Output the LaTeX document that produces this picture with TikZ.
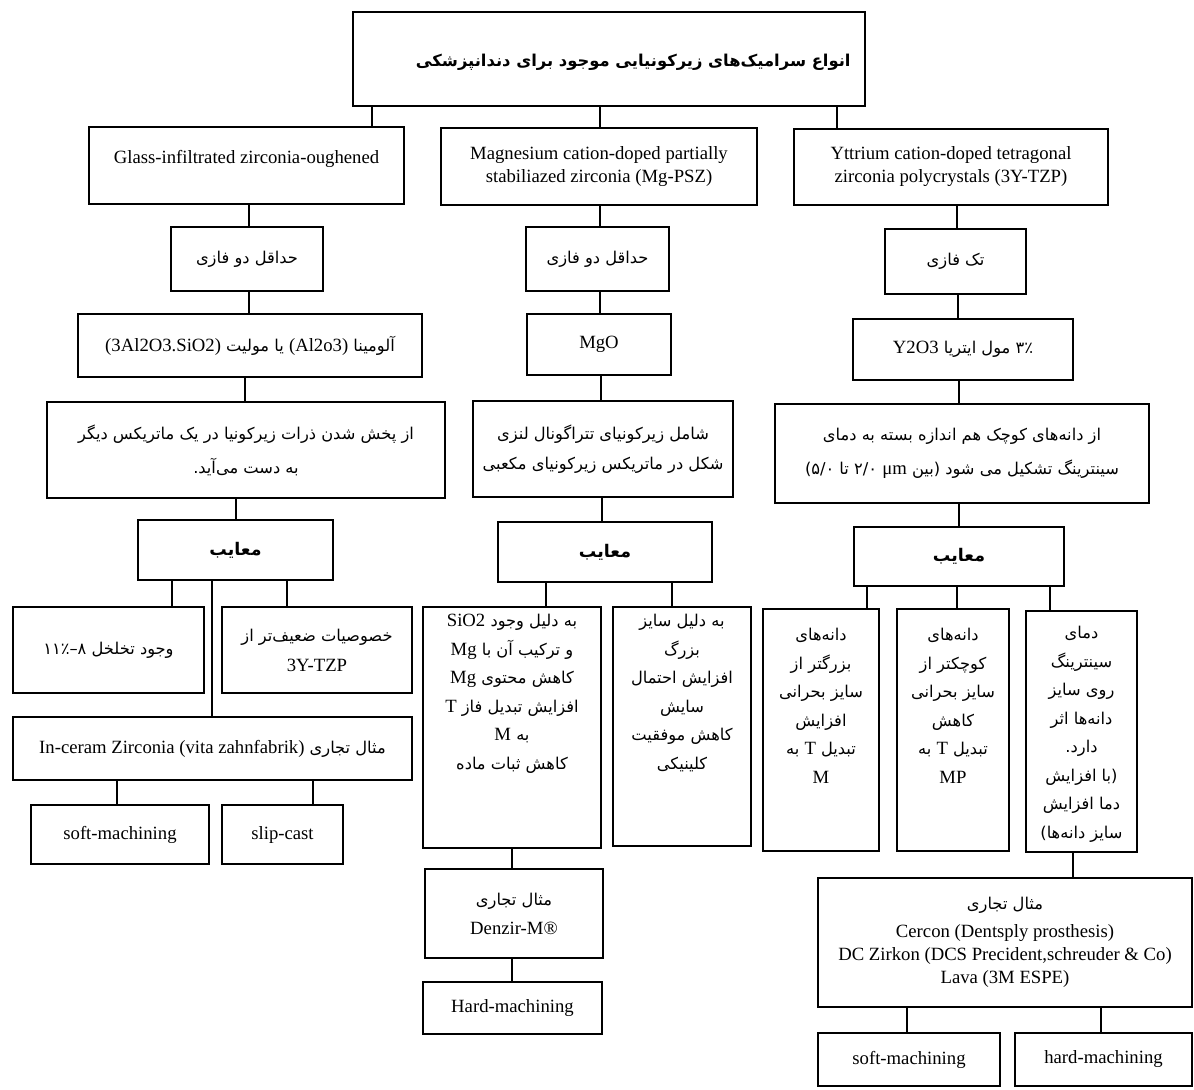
\documentclass[tikz,border=0pt]{standalone}
\usepackage{fontspec}
\setmainfont{Liberation Serif}
\newfontfamily\fa[Script=Arabic,Scale=0.87]{DejaVu Sans}
\TeXXeTstate=1
\newcommand{\lat}[1]{{\rmfamily\beginL #1\endL}}
% box given by two corners (pixels of the scan)
\newcommand{\boxat}[6][]{\node[box,#1,minimum width={(#4-#2)*0.5pt},minimum height={(#5-#3)*0.5pt}] (#6) at ({(#2+#4)/2},{(#3+#5)/2})}
\newcommand{\vlink}[3]{\coordinate (lx) at (#3,0); \draw[link] (#1.south -| lx) -- (#2.north -| lx);}

\begin{document}
\begin{tikzpicture}[x=0.5pt,y=-0.5pt,
		box/.style={draw, line width=1pt, inner sep=1pt, align=center, font=\fontsize{9.35}{11.5}\selectfont},
		link/.style={line width=1pt},
		title/.style={anchor=east, inner sep=0pt, xshift=-7.5pt, yshift=-1.5pt, font=\fontsize{9.4}{12}\selectfont\bfseries},
		high/.style={anchor=base, inner sep=0pt, yshift=-18.5pt, font=\fontsize{9.35}{11.5}\selectfont},
		tall/.style={anchor=north, inner sep=0pt, align=center, yshift=-#1, font=\fontsize{9.35}{14.25}\selectfont},
		bad/.style={font=\fontsize{10}{12}\selectfont\bfseries}]
		%%%%% START %%%%%
		\useasboundingbox (0,0) rectangle (1194,1089);
		
		\boxat[label={[title]east:{\fa\beginR انواع سرامیک‌های زیرکونیایی موجود برای دندانپزشکی\endR}}]{353}{12}{865}{106}{top} {};
		
		\boxat[label={[high]north:Glass-infiltrated zirconia-oughened}]{89}{127}{404}{204}{glass} {};
		\boxat{441}{128}{757}{205}{mgpsz} {Magnesium cation-doped partially\\stabiliazed zirconia (Mg-PSZ)};
		\boxat{794}{129}{1108}{205}{ytzp} {Yttrium cation-doped tetragonal\\zirconia polycrystals (3Y-TZP)};
		
		% glass-infiltrated
		\boxat{171}{227}{323}{291}{gphase} {{\fa\beginR حداقل دو فازی\endR}};
		\boxat{78}{314}{422}{377}{galu} {{\fa\beginR آلومینا \lat{(Al2o3)} یا مولیت \lat{(3Al2O3.SiO2)}\endR}};
		\boxat{47}{402}{445}{498}{gdisp} {{\fa\beginR از پخش شدن ذرات زیرکونیا در یک ماتریکس دیگر\endR}\\[5.5pt]{\fa\beginR به دست می‌آید.\endR}};
		\boxat[bad]{138}{520}{333}{580}{gdef} {{\fa\beginR معایب\endR}};
		\boxat{13}{607}{204}{693}{gpor} {{\fa\beginR وجود تخلخل ۸–۱۱٪\endR}};
		\boxat{222}{607}{412}{693}{gweak} {{\fa\beginR خصوصیات ضعیف‌تر از\endR}\\[3.5pt]3Y-TZP};
		\boxat{13}{717}{412}{780}{gex} {{\fa\beginR مثال تجاری \lat{In-ceram Zirconia (vita zahnfabrik)}\endR}};
		\boxat{31}{805}{209}{864}{gsoft} {soft-machining};
		\boxat{222}{805}{343}{864}{gslip} {slip-cast};
		
		% Mg-PSZ
		\boxat{526}{227}{669}{291}{mphase} {{\fa\beginR حداقل دو فازی\endR}};
		\boxat{527}{314}{671}{375}{mmgo} {MgO};
		\boxat{473}{401}{733}{497}{mlens} {{\fa\beginR شامل زیرکونیای تتراگونال لنزی\endR}\\[3.5pt]{\fa\beginR شکل در ماتریکس زیرکونیای مکعبی\endR}};
		\boxat[bad]{498}{522}{712}{582}{mdef} {{\fa\beginR معایب\endR}};
		\boxat[label={[tall=4pt]north:{{\fa\beginR به دلیل وجود \lat{SiO2}\endR}\\{\fa\beginR و ترکیب آن با \lat{Mg}\endR}\\{\fa\beginR کاهش محتوی \lat{Mg}\endR}\\{\fa\beginR افزایش تبدیل فاز \lat{T}\endR}\\{\fa\beginR به \lat{M}\endR}\\{\fa\beginR کاهش ثبات ماده\endR}}}]{423}{607}{601}{848}{msio} {};
		\boxat[label={[tall=4pt]north:{{\fa\beginR به دلیل سایز\endR}\\{\fa\beginR بزرگ\endR}\\{\fa\beginR افزایش احتمال\endR}\\{\fa\beginR سایش\endR}\\{\fa\beginR کاهش موفقیت\endR}\\{\fa\beginR کلینیکی\endR}}}]{613}{607}{751}{846}{msize} {};
		\boxat{425}{869}{603}{958}{mex} {{\fa\beginR مثال تجاری\endR}\\[3pt]Denzir-M®};
		\boxat{423}{982}{602}{1034}{mhard} {Hard-machining};
		
		% 3Y-TZP
		\boxat{885}{229}{1026}{294}{yphase} {{\fa\beginR تک فازی\endR}};
		\boxat{853}{319}{1073}{380}{yoxide} {{\fa\beginR ۳٪ مول ایتریا \lat{Y2O3}\endR}};
		\boxat{775}{404}{1149}{503}{ygrain} {{\fa\beginR از دانه‌های کوچک هم اندازه بسته به دمای\endR}\\[5.5pt]{\fa\beginR سینترینگ تشکیل می شود (بین \lat{μm} ۲/۰ تا ۵/۰)\endR}};
		\boxat[bad]{854}{527}{1064}{586}{ydef} {{\fa\beginR معایب\endR}};
		\boxat[label={[tall=10pt]north:{{\fa\beginR دانه‌های\endR}\\{\fa\beginR بزرگتر از\endR}\\{\fa\beginR سایز بحرانی\endR}\\{\fa\beginR افزایش\endR}\\{\fa\beginR تبدیل \lat{T} به\endR}\\M}}]{763}{609}{879}{851}{ylarge} {};
		\boxat[label={[tall=10pt]north:{{\fa\beginR دانه‌های\endR}\\{\fa\beginR کوچکتر از\endR}\\{\fa\beginR سایز بحرانی\endR}\\{\fa\beginR کاهش\endR}\\{\fa\beginR تبدیل \lat{T} به\endR}\\MP}}]{897}{609}{1009}{851}{ysmall} {};
		\boxat[label={[tall=8pt]north:{{\fa\beginR دمای\endR}\\{\fa\beginR سینترینگ\endR}\\{\fa\beginR روی سایز\endR}\\{\fa\beginR دانه‌ها اثر\endR}\\{\fa\beginR دارد.\endR}\\{\fa\beginR (با افزایش\endR}\\{\fa\beginR دما افزایش\endR}\\{\fa\beginR سایز دانه‌ها)\endR}}}]{1026}{611}{1137}{852}{ytemp} {};
		\boxat{818}{878}{1192}{1007}{yex} {{\fa\beginR مثال تجاری\endR}\\[2.5pt]Cercon (Dentsply prosthesis)\\DC Zirkon (DCS Precident,schreuder \& Co)\\Lava (3M ESPE)};
		\boxat{818}{1033}{1000}{1086}{ysoft} {soft-machining};
		\boxat{1015}{1033}{1192}{1086}{yhard} {hard-machining};
		
		% connectors
		\vlink{top}{glass}{372}
		\vlink{top}{mgpsz}{600}
		\vlink{top}{ytzp}{837}
		\vlink{glass}{gphase}{249}
		\vlink{gphase}{galu}{249}
		\vlink{galu}{gdisp}{245}
		\vlink{gdisp}{gdef}{236}
		\vlink{gdef}{gpor}{172}
		\vlink{gdef}{gweak}{287}
		\vlink{gdef}{gex}{212}
		\vlink{gex}{gsoft}{117}
		\vlink{gex}{gslip}{313}
		\vlink{mgpsz}{mphase}{600}
		\vlink{mphase}{mmgo}{600}
		\vlink{mmgo}{mlens}{601}
		\vlink{mlens}{mdef}{602}
		\vlink{mdef}{msio}{546}
		\vlink{mdef}{msize}{672}
		\vlink{msio}{mex}{512}
		\vlink{mex}{mhard}{512}
		\vlink{ytzp}{yphase}{957}
		\vlink{yphase}{yoxide}{958}
		\vlink{yoxide}{ygrain}{959}
		\vlink{ygrain}{ydef}{959}
		\vlink{ydef}{ylarge}{867}
		\vlink{ydef}{ysmall}{957}
		\vlink{ydef}{ytemp}{1050}
		\vlink{ytemp}{yex}{1073}
		\vlink{yex}{ysoft}{907}
		\vlink{yex}{yhard}{1101}
		
		%%%%% END %%%%%
\end{tikzpicture}
\end{document}
